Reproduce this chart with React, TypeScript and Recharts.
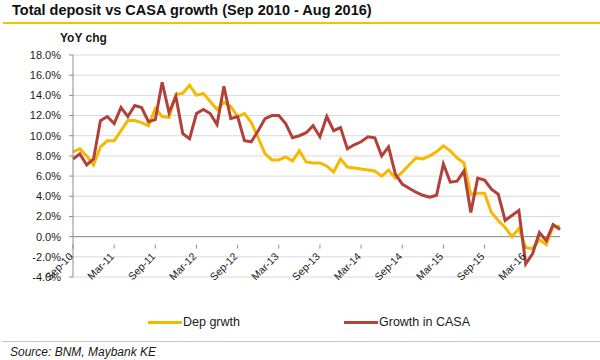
import React from 'react';
import { LineChart, Line, XAxis, YAxis, CartesianGrid, ReferenceLine } from 'recharts';

const monthNames = ['Jan', 'Feb', 'Mar', 'Apr', 'May', 'Jun', 'Jul', 'Aug', 'Sep', 'Oct', 'Nov', 'Dec'];

// Sep-10 .. Aug-16, monthly
const months: string[] = [];
for (let k = 0; k < 72; k++) {
    const m = (8 + k) % 12;
    const yr = 10 + Math.floor((8 + k) / 12);
    months.push(`${monthNames[m]}-${yr}`);
}

const depGrowth = [
    8.4, 8.7, 8.0, 7.1, 8.9, 9.5, 9.5, 10.5, 11.5, 11.5, 11.3, 11.0,
    12.7, 11.9, 11.8, 14.1, 14.2, 15.0, 14.0, 14.2, 13.4, 12.6, 13.3, 12.9,
    11.9, 12.2, 11.3, 9.8, 8.2, 7.6, 7.6, 7.9, 7.5, 8.5, 7.4, 7.3,
    7.3, 7.0, 6.4, 7.7, 6.9, 6.8, 6.7, 6.6, 6.5, 6.0, 6.6, 5.8,
    6.4, 7.1, 7.8, 7.7, 8.0, 8.4, 9.0, 8.5, 7.8, 7.3, 4.2, 4.3,
    4.3, 2.4, 1.6, 0.9, 0.0, 0.8, -1.1, -1.2, -0.3, -0.8, 1.0, 1.0,
];

const casaGrowth = [
    7.7, 8.2, 7.1, 7.7, 11.5, 11.9, 11.2, 12.8, 11.9, 13.0, 12.8, 11.4,
    11.6, 15.3, 12.3, 13.9, 10.2, 9.7, 12.2, 12.6, 12.2, 11.1, 14.9, 11.7,
    11.9, 9.5, 9.4, 10.5, 11.7, 12.0, 12.0, 11.2, 9.8, 10.0, 10.3, 11.0,
    9.9, 11.9, 10.5, 10.8, 8.7, 9.1, 9.4, 9.9, 9.8, 8.0, 8.9, 6.2,
    5.2, 4.8, 4.4, 4.1, 3.9, 4.1, 7.2, 5.4, 5.5, 6.5, 2.4, 5.8,
    5.6, 4.7, 4.2, 1.6, 2.1, 2.6, -2.7, -1.7, 0.4, -0.4, 1.2, 0.7,
];

const yTicks = [-4, -2, 0, 2, 4, 6, 8, 10, 12, 14, 16, 18];

const chartData = months.map((m, i) => ({ month: m, dep: depGrowth[i], casa: casaGrowth[i] }));

const YELLOW = '#F6B900';
const RED = '#B2403B';
const FONT = '"Liberation Sans", Arial, sans-serif';

const CHART_H = 290;
const X_AXIS_H = 13;
const MARGIN = { top: 55, right: 40, bottom: 0, left: 0 };
const PLOT_H = CHART_H - MARGIN.top - MARGIN.bottom - X_AXIS_H;
// x axis sits on the 0% line, not on the bottom of the plot
const ZERO_SHIFT = PLOT_H * (0 - yTicks[0]) / (yTicks[yTicks.length - 1] - yTicks[0]);

function MonthTick(props: any) {
    const { x, y, payload } = props;
    const y0 = y - ZERO_SHIFT;
    const lx = x - 2;
    const ly = y0 + 10;
    return (
        <g>
            <line x1={x} y1={y0} x2={x} y2={y0 + 4} stroke="#8c8c8c" />
            <text
                x={lx}
                y={ly}
                textAnchor="end"
                fontSize={10.5}
                fontFamily={FONT}
                fill="#1a1a1a"
                transform={`rotate(-45, ${lx}, ${ly})`}
                dy="0.35em"
            >
                {payload.value}
            </text>
        </g>
    );
}

export default function App() {
    return (
        <div style={{ position: 'absolute', left: 0, top: 0, width: 600, height: 360, background: '#fff', fontFamily: FONT }}>
            <div style={{ position: 'absolute', left: 12, top: 2, fontSize: 14.5, fontWeight: 'bold', color: '#111' }}>
                Total deposit vs CASA growth (Sep 2010 - Aug 2016)
            </div>
            <div style={{ position: 'absolute', left: 3, top: 22, width: 597, height: 2, background: '#F5C000' }} />
            <div style={{ position: 'absolute', left: 60, top: 31, fontSize: 12, fontWeight: 'bold', color: '#1a1a1a' }}>
                YoY chg
            </div>

            <div style={{ position: 'absolute', left: 0, top: 0 }}>
                <LineChart width={600} height={CHART_H} data={chartData} margin={MARGIN}>
                    <CartesianGrid vertical={false} stroke="#d9d9d9" strokeWidth={1} />
                    <XAxis
                        dataKey="month"
                        interval={5}
                        axisLine={false}
                        tickLine={false}
                        tick={<MonthTick />}
                        height={X_AXIS_H}
                    />
                    <YAxis
                        width={73}
                        domain={[yTicks[0], yTicks[yTicks.length - 1]]}
                        ticks={yTicks}
                        interval={0}
                        tickFormatter={(v) => `${Number(v).toFixed(1)}%`}
                        tick={{ fill: '#1a1a1a', fontSize: 11, fontFamily: FONT }}
                        stroke="#8c8c8c"
                        tickSize={4}
                        tickMargin={8}
                    />
                    <ReferenceLine y={0} stroke="#8c8c8c" strokeWidth={1} />
                    <Line
                        type="linear"
                        dataKey="dep"
                        stroke={YELLOW}
                        strokeWidth={3}
                        dot={false}
                        isAnimationActive={false}
                    />
                    <Line
                        type="linear"
                        dataKey="casa"
                        stroke={RED}
                        strokeWidth={3}
                        dot={false}
                        isAnimationActive={false}
                    />
                </LineChart>
            </div>

            <div style={{ position: 'absolute', left: 148, top: 315, display: 'flex', alignItems: 'center', fontSize: 12.5, color: '#1a1a1a' }}>
                <div style={{ width: 34, height: 3, background: YELLOW }} />
                <span style={{ marginLeft: 1 }}>Dep grwth</span>
            </div>
            <div style={{ position: 'absolute', left: 344, top: 315, display: 'flex', alignItems: 'center', fontSize: 12.5, color: '#1a1a1a' }}>
                <div style={{ width: 34, height: 3, background: RED }} />
                <span style={{ marginLeft: 1 }}>Growth in CASA</span>
            </div>

            <div style={{ position: 'absolute', left: 2, top: 341, width: 598, height: 1, background: '#c8c8c8' }} />
            <div style={{ position: 'absolute', left: 10, top: 345, fontSize: 12, fontStyle: 'italic', color: '#1a1a1a' }}>
                Source: BNM, Maybank KE
            </div>
        </div>
    );
}
